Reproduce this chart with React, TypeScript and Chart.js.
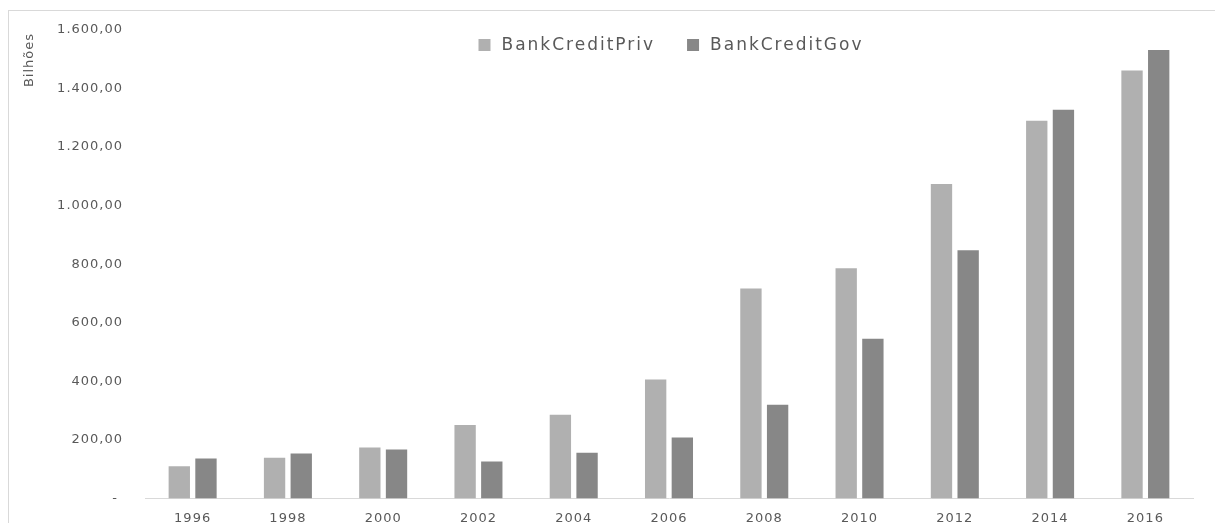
import React, { useEffect, useRef } from "react";
import { Chart, registerables } from "chart.js";

Chart.register(...registerables);

const categories = ["1996", "1998", "2000", "2002", "2004", "2006", "2008", "2010", "2012", "2014", "2016"];
const bankCreditPriv = [110, 139, 174, 251, 286, 406, 717, 786, 1074, 1290, 1462];
const bankCreditGov = [136, 153, 167, 126, 156, 208, 320, 545, 848, 1328, 1532];
const seriesNames = ["BankCreditPriv", "BankCreditGov"];
const axisTitle = "Bilhões";

const FONT = "'DejaVu Sans', sans-serif";
const TEXT = "#595959";

function fmt(v: number): string {
  if (v === 0) return "- ";
  const fixed = v.toFixed(2);
  const [ip, dp] = fixed.split(".");
  const withDots = ip.replace(/\B(?=(\d{3})+(?!\d))/g, ".");
  return withDots + "," + dp;
}

const spacingPlugin = {
  id: "spacing",
  beforeUpdate(chart: any) {
    (chart.ctx as any).letterSpacing = "1px";
  },
  beforeDraw(chart: any) {
    (chart.ctx as any).letterSpacing = "1px";
  },
};

const extrasPlugin = {
  id: "extras",
  afterDraw(chart: any) {
    const ctx = chart.ctx as CanvasRenderingContext2D;
    const area = chart.chartArea;
    ctx.save();
    (ctx as any).letterSpacing = "1px";
    // axis title
    ctx.fillStyle = TEXT;
    ctx.font = `13px ${FONT}`;
    ctx.translate(30, 60);
    ctx.rotate(-Math.PI / 2);
    ctx.textAlign = "center";
    ctx.textBaseline = "middle";
    ctx.fillText(axisTitle, 0, 0);
    ctx.restore();

    // legend
    ctx.save();
    (ctx as any).letterSpacing = "2px";
    ctx.font = `17px ${FONT}`;
    ctx.textBaseline = "middle";
    ctx.textAlign = "left";
    const box = 12;
    const gapBoxText = 11;
    const gapItems = 32;
    const ds = chart.data.datasets;
    const widths = ds.map((d: any) => box + gapBoxText + ctx.measureText(d.label).width);
    const total = widths.reduce((a: number, b: number) => a + b, 0) + gapItems * (ds.length - 1);
    let x = (area.left + area.right) / 2 + 2 - total / 2;
    const cy = 45;
    ds.forEach((d: any, i: number) => {
      ctx.fillStyle = d.backgroundColor;
      ctx.fillRect(x, cy - box / 2, box, box);
      ctx.fillStyle = TEXT;
      ctx.fillText(d.label, x + box + gapBoxText, cy + 1);
      x += widths[i] + gapItems;
    });
    ctx.restore();
  },
};

export default function App() {
  const ref = useRef<HTMLCanvasElement>(null);

  useEffect(() => {
    document.documentElement.style.overflow = "hidden";
    document.body.style.overflow = "hidden";
    const canvas = ref.current;
    if (!canvas) return;
    const chart = new Chart(canvas, {
      type: "bar",
      data: {
        labels: categories,
        datasets: [
          {
            label: seriesNames[0],
            data: bankCreditPriv,
            backgroundColor: "#b0b0b0",
            categoryPercentage: 0.56,
            barPercentage: 0.8,
          },
          {
            label: seriesNames[1],
            data: bankCreditGov,
            backgroundColor: "#878787",
            categoryPercentage: 0.56,
            barPercentage: 0.8,
          },
        ],
      },
      options: {
        responsive: false,
        animation: false,
        layout: { padding: { top: 30, right: 22, bottom: 0, left: 0 } },
        plugins: {
          legend: { display: false },
          tooltip: { enabled: false },
        },
        scales: {
          x: {
            grid: { display: false, drawTicks: false },
            border: { display: true, color: "#d9d9d9", width: 1 },
            ticks: {
              color: TEXT,
              font: { family: FONT, size: 13 },
              padding: 12,
              maxRotation: 0,
              autoSkip: false,
            },
          },
          y: {
            min: 0,
            max: 1600,
            grid: { display: false, drawTicks: false },
            border: { display: false },
            afterFit(scale: any) {
              scale.width = 145;
            },
            ticks: {
              stepSize: 200,
              color: TEXT,
              font: { family: FONT, size: 13 },
              padding: 22,
              callback: (v: any) => fmt(Number(v)),
            },
          },
        },
      },
      plugins: [spacingPlugin, extrasPlugin],
    });
    return () => chart.destroy();
  }, []);

  return (
    <div style={{ position: "absolute", left: 0, top: 0, width: 1215, height: 523, overflow: "hidden", background: "#fff" }}>
      <div
        style={{
          position: "absolute",
          left: 8,
          top: 10,
          width: 1220,
          height: 540,
          border: "1px solid #d9d9d9",
          boxSizing: "border-box",
        }}
      />
      <canvas ref={ref} width={1215} height={538} style={{ position: "absolute", left: 0, top: 0, display: "block" }} />
    </div>
  );
}
